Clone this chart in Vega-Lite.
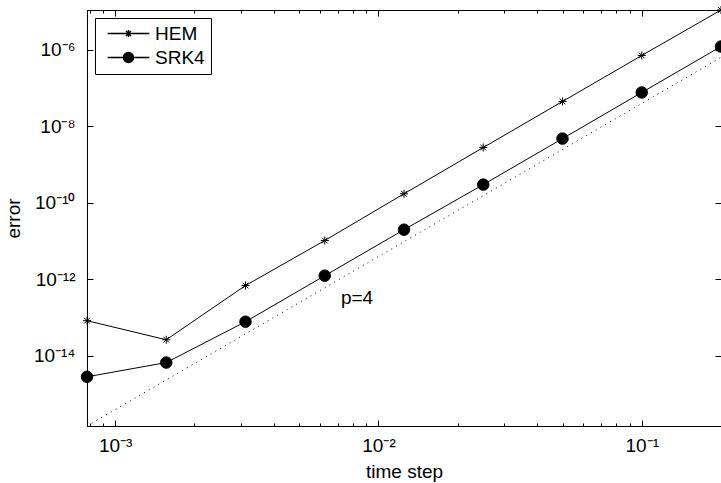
{
  "$schema": "https://vega.github.io/schema/vega-lite/v6.json",
  "width": 634,
  "height": 416,
  "autosize": {"type": "none"},
  "padding": {"left": 87, "top": 10, "right": 0, "bottom": 57},
  "background": "white",
  "config": {
    "view": {"stroke": "black", "strokeWidth": 1},
    "axis": {
      "domainColor": "black",
      "domainWidth": 1,
      "tickColor": "black",
      "tickWidth": 1,
      "labelColor": "black",
      "labelFont": "Liberation Sans",
      "labelFontSize": 19,
      "titleFont": "Liberation Sans",
      "titleFontSize": 19,
      "titleFontWeight": "normal",
      "titleColor": "black",
      "grid": false,
      "labelFlush": false,
      "labelOverlap": false
    },
    "legend": {
      "labelFont": "Liberation Sans",
      "labelFontSize": 19,
      "labelColor": "black"
    },
    "text": {"font": "Liberation Sans"}
  },
  "datasets": {
    "errors": [
      {"dt": 0.00078125, "err": 8.2e-14, "method": "HEM"},
      {"dt": 0.0015625, "err": 2.6e-14, "method": "HEM"},
      {"dt": 0.003125, "err": 6.8e-13, "method": "HEM"},
      {"dt": 0.00625, "err": 1.02e-11, "method": "HEM"},
      {"dt": 0.0125, "err": 1.7e-10, "method": "HEM"},
      {"dt": 0.025, "err": 2.75e-9, "method": "HEM"},
      {"dt": 0.05, "err": 4.4e-8, "method": "HEM"},
      {"dt": 0.1, "err": 7.0e-7, "method": "HEM"},
      {"dt": 0.2, "err": 1.08e-5, "method": "HEM"},
      {"dt": 0.00078125, "err": 2.8e-15, "method": "SRK4"},
      {"dt": 0.0015625, "err": 6.6e-15, "method": "SRK4"},
      {"dt": 0.003125, "err": 7.7e-14, "method": "SRK4"},
      {"dt": 0.00625, "err": 1.23e-12, "method": "SRK4"},
      {"dt": 0.0125, "err": 1.96e-11, "method": "SRK4"},
      {"dt": 0.025, "err": 2.95e-10, "method": "SRK4"},
      {"dt": 0.05, "err": 4.7e-9, "method": "SRK4"},
      {"dt": 0.1, "err": 7.55e-8, "method": "SRK4"},
      {"dt": 0.2, "err": 1.2e-6, "method": "SRK4"}
    ],
    "order4": [
      {"dt": 0.00078125, "err": 1.45e-16},
      {"dt": 0.2, "err": 6.24e-7}
    ],
    "notes": [
      {"dt": 0.0072, "err": 2.25e-13, "label": "p=4"}
    ]
  },
  "resolve": {
    "axis": {"x": "independent", "y": "independent"},
    "scale": {"shape": "independent"}
  },
  "layer": [
    {
      "data": {"name": "order4"},
      "mark": {"type": "line", "color": "black", "strokeWidth": 1, "strokeDash": [1, 4.5]},
      "encoding": {
        "x": {
          "field": "dt", "type": "quantitative",
          "scale": {"type": "log", "domain": [0.00078125, 0.2], "nice": false},
          "axis": {
            "orient": "bottom",
            "title": "time step",
            "titlePadding": 4,
            "values": [0.0008, 0.0009, 0.001, 0.002, 0.003, 0.004, 0.005, 0.006, 0.007, 0.008, 0.009, 0.01, 0.02, 0.03, 0.04, 0.05, 0.06, 0.07, 0.08, 0.09, 0.1, 0.2],
            "labelExpr": "datum.value == 0.001 ? '10⁻³' : datum.value == 0.01 ? '10⁻²' : datum.value == 0.1 ? '10⁻¹' : ''",
            "tickSize": {"condition": {"test": "datum.value == 0.001 || datum.value == 0.01 || datum.value == 0.1", "value": -6}, "value": -3},
            "labelPadding": 16
          }
        },
        "y": {
          "field": "err", "type": "quantitative",
          "scale": {"type": "log", "domain": [1.45e-16, 1.08e-5], "nice": false},
          "axis": {
            "orient": "left",
            "title": "error",
            "titlePadding": 10,
            "values": [1e-14, 1e-12, 1e-10, 1e-8, 1e-6],
            "labelExpr": "datum.value == 1e-6 ? '10⁻⁶' : datum.value == 1e-8 ? '10⁻⁸' : datum.value == 1e-10 ? '10⁻¹⁰' : datum.value == 1e-12 ? '10⁻¹²' : '10⁻¹⁴'",
            "tickSize": -6,
            "labelPadding": 18
          }
        }
      }
    },
    {
      "data": {"name": "errors"},
      "mark": {"type": "line", "color": "black", "strokeWidth": 1},
      "encoding": {
        "x": {
          "field": "dt", "type": "quantitative",
          "scale": {"type": "log", "domain": [0.00078125, 0.2], "nice": false},
          "axis": {
            "orient": "top",
            "title": null,
            "labels": false,
            "values": [0.0008, 0.0009, 0.001, 0.002, 0.003, 0.004, 0.005, 0.006, 0.007, 0.008, 0.009, 0.01, 0.02, 0.03, 0.04, 0.05, 0.06, 0.07, 0.08, 0.09, 0.1, 0.2],
            "tickSize": {"condition": {"test": "datum.value == 0.001 || datum.value == 0.01 || datum.value == 0.1", "value": -6}, "value": -3}
          }
        },
        "y": {
          "field": "err", "type": "quantitative",
          "scale": {"type": "log", "domain": [1.45e-16, 1.08e-5], "nice": false},
          "axis": {
            "orient": "right",
            "title": null,
            "labels": false,
            "values": [1e-14, 1e-12, 1e-10, 1e-8, 1e-6],
            "tickSize": -6
          }
        },
        "detail": {"field": "method"}
      }
    },
    {
      "data": {"name": "errors"},
      "mark": {"type": "point", "fill": "black", "stroke": "black", "strokeWidth": 1, "size": 132, "opacity": 1},
      "encoding": {
        "x": {"field": "dt", "type": "quantitative", "scale": {"type": "log", "domain": [0.00078125, 0.2], "nice": false}, "axis": null},
        "y": {"field": "err", "type": "quantitative", "scale": {"type": "log", "domain": [1.45e-16, 1.08e-5], "nice": false}, "axis": null},
        "shape": {
          "field": "method", "type": "nominal",
          "scale": {
            "domain": ["HEM", "SRK4"],
            "range": ["M-0.7,0H0.7M0,-0.7V0.7M-0.5,-0.5L0.5,0.5M-0.5,0.5L0.5,-0.5", "circle"]
          },
          "legend": null
        }
      }
    },
    {
      "data": {"name": "errors"},
      "transform": [{"filter": "false"}],
      "mark": {"type": "point", "fill": "black", "stroke": "black", "strokeWidth": 1, "size": 132, "opacity": 1},
      "encoding": {
        "x": {"field": "dt", "type": "quantitative", "scale": {"type": "log", "domain": [0.00078125, 0.2], "nice": false}, "axis": null},
        "y": {"field": "err", "type": "quantitative", "scale": {"type": "log", "domain": [1.45e-16, 1.08e-5], "nice": false}, "axis": null},
        "shape": {
          "field": "method", "type": "nominal",
          "scale": {
            "domain": ["HEM", "SRK4"],
            "range": [
              "M-4.17,0H4.17M-0.7,0H0.7M0,-0.7V0.7M-0.5,-0.5L0.5,0.5M-0.5,0.5L0.5,-0.5",
              "M-4.17,0H4.17M1,0A1,1,0,1,1,-1,0A1,1,0,1,1,1,0Z"
            ]
          },
          "legend": {
            "title": null,
            "orient": "top-left",
            "offset": 8,
            "padding": 6,
            "rowPadding": 4,
            "strokeColor": "black",
            "fillColor": "white",
            "symbolOffset": 18,
            "labelOffset": 17,
            "encode": {
              "symbols": {
                "size": {"value": 132},
                "fill": {"value": "black"},
                "stroke": {"value": "black"},
                "strokeWidth": {"value": 1},
                "strokeOpacity": {"value": 1},
                "fillOpacity": {"value": 1},
                "opacity": {"value": 1}
              }
            }
          }
        }
      }
    },
    {
      "data": {"name": "notes"},
      "mark": {"type": "text", "align": "left", "baseline": "alphabetic", "fontSize": 19, "color": "black"},
      "encoding": {
        "x": {"field": "dt", "type": "quantitative", "scale": {"type": "log", "domain": [0.00078125, 0.2], "nice": false}, "axis": null},
        "y": {"field": "err", "type": "quantitative", "scale": {"type": "log", "domain": [1.45e-16, 1.08e-5], "nice": false}, "axis": null},
        "text": {"field": "label"}
      }
    }
  ]
}
